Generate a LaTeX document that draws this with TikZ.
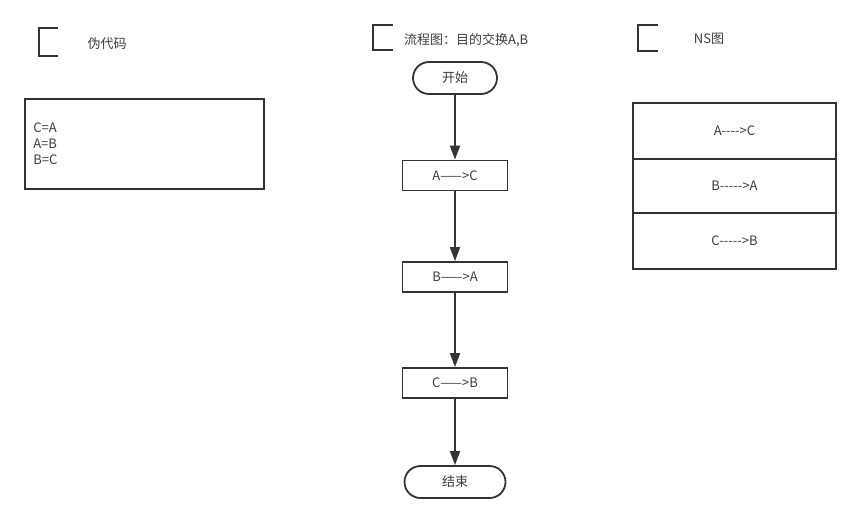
\documentclass[tikz,border=0pt]{standalone}
\usepackage{fontspec}
\setmainfont{Noto Sans CJK SC}[Ligatures=TeXOff]
\usetikzlibrary{arrows.meta,positioning,shapes.misc}
\definecolor{ink}{HTML}{333333}
\definecolor{inktext}{HTML}{3C3C3C}
\newcommand{\diafont}{\fontsize{13}{16}\selectfont}
\tikzset{
  procbox/.style={draw=ink,line width=1.8pt,
                  minimum width=105pt,minimum height=30pt,
                  inner sep=2pt,font=\diafont,text=inktext},
  termbox/.style={rounded rectangle,draw=ink,line width=1.8pt,
                  minimum width=88pt,minimum height=32pt,
                  inner sep=2pt,font=\diafont,text=inktext},
  nsrow/.style={draw=ink,line width=1.8pt,minimum width=203pt,
                inner sep=2pt,outer sep=0pt,font=\diafont,text=inktext},
  heading/.style={font=\diafont,text=inktext,inner sep=0pt},
  flowarr/.style={-{Triangle[length=14pt,width=10pt]},line width=1.8pt,color=ink},
  corner/.style={line width=1.8pt,color=ink}
}
\begin{document}
\begin{tikzpicture}[x=1pt,y=-1pt]
  \useasboundingbox (0,0) rectangle (861,522);
  % pseudo code
  \draw[corner] (58,28) -- (39,28) -- (39,56) -- (58,56);
  \node[heading] (pcode) at (107,44) {伪代码};
  \node[draw=ink,line width=1.8pt,minimum width=239pt,minimum height=90pt] (code) at (144.5,144) {};
  \node[anchor=west,align=left,font=\diafont,text=inktext,inner sep=0pt] (codetext)
    at ([xshift=9pt]code.west) {C=A\\A=B\\B=C};
  % flow chart
  \draw[corner] (393,25) -- (373,25) -- (373,50) -- (393,50);
  \node[heading,anchor=west] (flowtitle) at (404,40) {流程图：目的交换A,B};
  \node[termbox] (start) at (455,78) {开始};
  \node[procbox] (stepa) at (455,175.5) {A——>C};
  \node[procbox] (stepb) at (455,277) {B——>A};
  \node[procbox] (stepc) at (455,383) {C——>B};
  \node[termbox,minimum width=105pt] (stop) at (455,482) {结束};
  \draw[flowarr] (start) -- (stepa);
  \draw[flowarr] (stepa) -- (stepb);
  \draw[flowarr] (stepb) -- (stepc);
  \draw[flowarr] (stepc) -- (stop);
  % NS chart
  \draw[corner] (658,25) -- (638,25) -- (638,51) -- (658,51);
  \node[heading] (nstitle) at (709,39) {NS图};
  \node[nsrow,minimum height=56pt] (nsa) at (734.5,131) {A---->C};
  \node[nsrow,minimum height=54pt,below=0pt of nsa] (nsb) {B----->A};
  \node[nsrow,minimum height=56pt,below=0pt of nsb] (nsc) {C----->B};
\end{tikzpicture}
\end{document}
